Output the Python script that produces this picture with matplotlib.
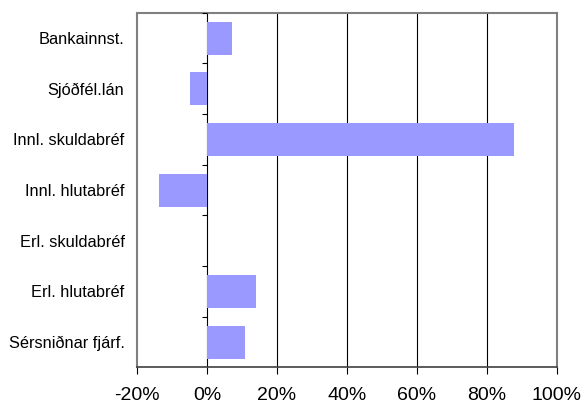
import matplotlib
matplotlib.use('Agg')
import matplotlib.pyplot as plt
import numpy as np

plt.rcParams['font.family'] = ['Liberation Sans', 'DejaVu Sans']

categories = ['Bankainnst.', 'Sjóðfél.lán', 'Innl. skuldabréf', 'Innl. hlutabréf',
              'Erl. skuldabréf', 'Erl. hlutabréf', 'Sérsniðnar fjárf.']
values = [7.0, -4.9, 87.7, -13.6, 0.0, 14.0, 10.9]
xticks = [-20, 0, 20, 40, 60, 80, 100]
xlabels = ['%d%%' % t for t in xticks]

fig = plt.figure(figsize=(5.85, 4.05), dpi=100)
ax = fig.add_axes([0.2342, 0.0926, 0.7179, 0.876])

y = np.arange(len(categories))
ax.barh(y, values, height=0.65, color='#9999ff', zorder=3)

# vertical gridlines
for t in xticks[1:-1]:
    ax.axvline(t, color='black', lw=0.8, zorder=2)

# category boundary ticks on the zero line
ax.hlines(np.arange(-0.5, len(categories)), -1.5, 0, color='black', lw=0.8, zorder=4)

ax.set_xlim(-20, 100)
ax.set_ylim(len(categories) - 0.5, -0.5)
ax.set_xticks(xticks)
ax.set_xticklabels(xlabels, fontsize=14)
ax.set_yticks(y)
ax.set_yticklabels(categories, fontsize=11.8)
ax.tick_params(axis='y', length=0, pad=9)
ax.tick_params(axis='x', length=5, width=0.8, color='black', pad=9)

for side in ['left', 'top', 'right']:
    ax.spines[side].set_color('#808080')
    ax.spines[side].set_linewidth(1.5)
ax.spines['bottom'].set_color('#404040')
ax.spines['bottom'].set_linewidth(1.2)

fig.savefig('out.png', dpi=100)
